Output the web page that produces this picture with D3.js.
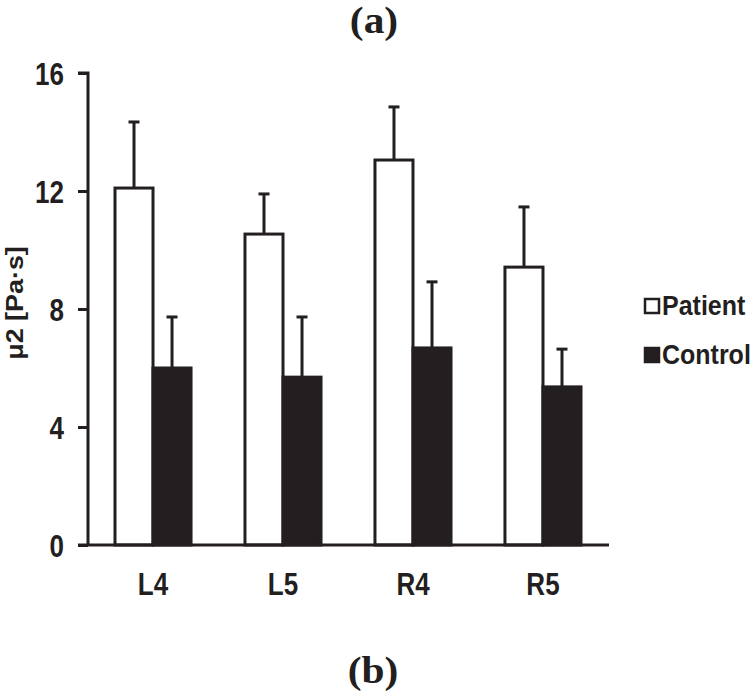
<!DOCTYPE html>
<html>
<head>
<meta charset="utf-8">
<script src="https://cdn.jsdelivr.net/npm/d3@7"></script>
<style>
html,body{margin:0;padding:0;background:#fff;}
svg{display:block;}
</style>
</head>
<body>
<svg id="chart" width="750" height="696"></svg>
<script>
const categories = ["L4", "L5", "R4", "R5"];
const seriesNames = ["Patient", "Control"];
const patientMean = [12.1, 10.54, 13.05, 9.42];
const patientErr  = [2.24, 1.36, 1.8, 2.04];
const controlMean = [6.0, 5.69, 6.68, 5.36];
const controlErr  = [1.73, 2.04, 2.24, 1.28];
const yTicks = [0, 4, 8, 12, 16];

const ink = "#231f20";
const sans = "'Liberation Sans', Arial, sans-serif";
const serif = "'Liberation Serif', 'Times New Roman', serif";
const svg = d3.select("#chart");

const x = d3.scaleBand().domain(categories).range([88, 608]).paddingInner(0.415).paddingOuter(0.2077);
const xs = d3.scaleBand().domain(seriesNames).range([0, x.bandwidth()]);
const y = d3.scaleLinear().domain([0, 16]).range([545, 73]);

const data = [];
categories.forEach((c, i) => {
  data.push({cat: c, s: "Patient", v: patientMean[i], e: patientErr[i]});
  data.push({cat: c, s: "Control", v: controlMean[i], e: controlErr[i]});
});
const fill = s => s === "Patient" ? "#fff" : ink;

// error bars (behind bars)
const eb = svg.append("g");
data.forEach(d => {
  const cx = x(d.cat) + xs(d.s) + xs.bandwidth() / 2;
  eb.append("line").attr("x1", cx).attr("x2", cx).attr("y1", y(d.v)).attr("y2", y(d.v + d.e))
    .attr("stroke", ink).attr("stroke-width", 3);
  eb.append("line").attr("x1", cx - 5.5).attr("x2", cx + 5.5).attr("y1", y(d.v + d.e)).attr("y2", y(d.v + d.e))
    .attr("stroke", ink).attr("stroke-width", 3);
});

// bars
svg.append("g").selectAll("rect").data(data).join("rect")
  .attr("x", d => x(d.cat) + xs(d.s))
  .attr("y", d => y(d.v))
  .attr("width", xs.bandwidth())
  .attr("height", d => y(0) - y(d.v))
  .attr("fill", d => fill(d.s))
  .attr("stroke", ink)
  .attr("stroke-width", 3);

// y axis
const yAxis = d3.axisLeft(y).tickValues(yTicks).tickSize(10).tickPadding(14).tickFormat(d3.format("d"));
const gy = svg.append("g").attr("transform", "translate(88,0)").call(yAxis);
gy.select(".domain").attr("stroke", ink).attr("stroke-width", 3).attr("d", "M-10," + y(16) + "H0V" + y(0));
gy.selectAll(".tick line").attr("stroke", ink).attr("stroke-width", 3);
gy.selectAll(".tick text").attr("fill", ink)
  .style("font-family", sans).style("font-weight", "bold").style("font-size", "26px")
  .attr("dy", "0.36em").attr("transform", "scale(1,1.2)");

// x axis
const xAxis = d3.axisBottom(x).tickSize(0);
const gx = svg.append("g").attr("transform", "translate(0,545)").call(xAxis);
gx.select(".domain").attr("stroke", ink).attr("stroke-width", 3).attr("d", "M78,0H609");
gx.selectAll(".tick text").attr("fill", ink)
  .style("font-family", sans).style("font-weight", "bold").style("font-size", "26px")
  .attr("y", 50 / 1.2).attr("dy", 0).attr("transform", "scale(1,1.2)");

// y axis title
svg.append("text")
  .attr("transform", "translate(23,303) scale(1,1.17) rotate(-90)")
  .attr("text-anchor", "middle")
  .attr("fill", ink)
  .style("font-family", sans).style("font-weight", "bold").style("font-size", "23px")
  .text("μ2 [Pa·s]");

// legend
const leg = svg.append("g");
seriesNames.forEach((s, i) => {
  const yy = 306 + i * 49;
  leg.append("rect").attr("x", 645).attr("y", yy - 7).attr("width", 14).attr("height", 14)
    .attr("fill", fill(s)).attr("stroke", ink).attr("stroke-width", 2.5);
  leg.append("text").attr("transform", "translate(662," + (yy + 9) + ") scale(1,1.12)").attr("fill", ink)
    .style("font-family", sans).style("font-weight", "bold").style("font-size", "25px")
    .text(s);
});

// panel labels
svg.append("text").attr("transform", "translate(374,33) scale(1.12,1)").attr("text-anchor", "middle").attr("fill", ink)
  .style("font-family", serif).style("font-weight", "bold").style("font-size", "37px")
  .text("(a)");
svg.append("text").attr("transform", "translate(373,683) scale(1.12,1)").attr("text-anchor", "middle").attr("fill", ink)
  .style("font-family", serif).style("font-weight", "bold").style("font-size", "37px")
  .text("(b)");
</script>
</body>
</html>
